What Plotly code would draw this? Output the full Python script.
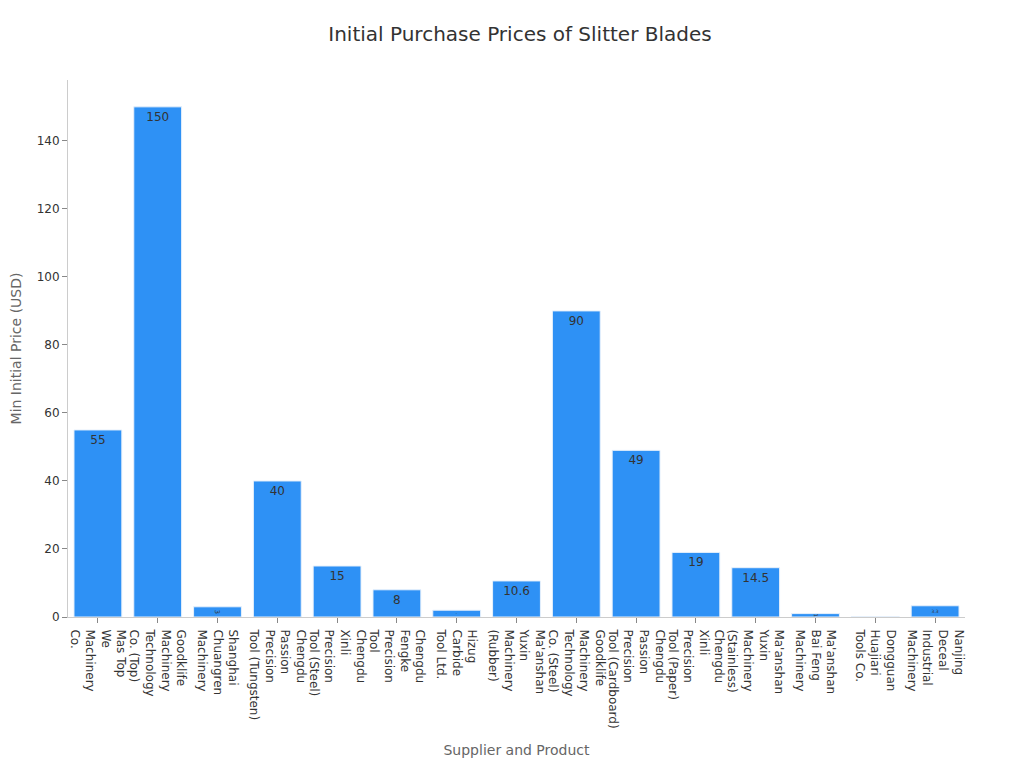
import plotly.graph_objects as go

suppliers = [
    "Mas Top<br>We<br>Machinery<br>Co.",
    "Goodklife<br>Machinery<br>Technology<br>Co. (Top)",
    "Shanghai<br>Chuangren<br>Machinery",
    "Chengdu<br>Passion<br>Precision<br>Tool (Tungsten)",
    "Chengdu<br>Xinli<br>Precision<br>Tool (Steel)",
    "Chengdu<br>Fengke<br>Precision<br>Tool",
    "Hizug<br>Carbide<br>Tool Ltd.",
    "Ma'anshan<br>Yuxin<br>Machinery<br>(Rubber)",
    "Goodklife<br>Machinery<br>Technology<br>Co. (Steel)",
    "Chengdu<br>Passion<br>Precision<br>Tool (Cardboard)",
    "Chengdu<br>Xinli<br>Precision<br>Tool (Paper)",
    "Ma'anshan<br>Yuxin<br>Machinery<br>(Stainless)",
    "Ma'anshan<br>Bai Feng<br>Machinery",
    "Dongguan<br>Huajiari<br>Tools Co.",
    "Nanjing<br>Deceal<br>Industrial<br>Machinery",
]
min_price = [55, 150, 3, 40, 15, 8, 2, 10.6, 90, 49, 19, 14.5, 1, 0.1, 3.3]

fig = go.Figure()

fig.add_trace(
    go.Bar(
        x=suppliers,
        y=min_price,
        text=min_price,
        textposition="inside",
        insidetextanchor="end",
        textfont=dict(color="#333333", size=12),
        marker=dict(color="#2E91F5", line=dict(color="#E8F1FB", width=1)),
        showlegend=False,
    )
)

fig.update_layout(
    template="plotly_white",
    title=dict(
        text="Initial Purchase Prices of Slitter Blades",
        x=0.5,
        xanchor="center",
        y=0.975,
        font=dict(size=20, color="#333333"),
    ),
    font=dict(family="DejaVu Sans", size=12, color="#333333"),
    width=1024,
    height=768,
    bargap=0.2,
    # page body adds 8px, so margins are shifted to line up
    margin=dict(l=60, r=67, t=72, b=159),
    plot_bgcolor="white",
    paper_bgcolor="white",
)

fig.update_xaxes(
    title=dict(text="Supplier and Product", font=dict(size=14, color="#666666"), standoff=17),
    tickangle=90,
    ticklabelstandoff=4,
    showgrid=False,
    showline=True,
    linecolor="#CCCCCC",
    ticks="outside",
    tickcolor="#888888",
    ticklen=5,
)
fig.update_yaxes(
    title=dict(text="Min Initial Price (USD)", font=dict(size=14, color="#666666"), standoff=16),
    automargin=False,
    showgrid=False,
    zeroline=False,
    showline=True,
    linecolor="#CCCCCC",
    ticks="outside",
    tickcolor="#888888",
    ticklen=5,
)

fig.write_html("out.html")
